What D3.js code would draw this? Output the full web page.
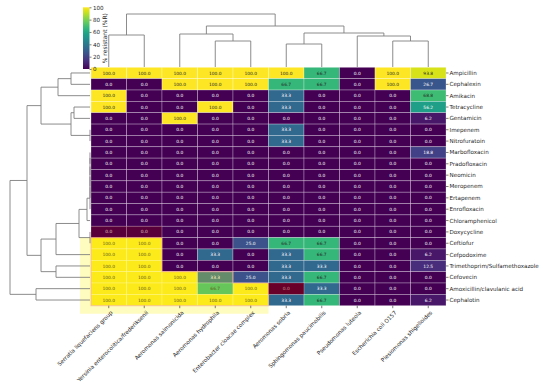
<!DOCTYPE html>
<html>
<head>
<meta charset="utf-8">
<script src="https://cdn.jsdelivr.net/npm/d3@7"></script>
<style>
  body { margin: 0; background: #fff; }
  svg { display: block; font-family: 'DejaVu Sans', sans-serif; }
</style>
</head>
<body>
<div class="clustermap"></div>
<script>
const antibiotics = [
  'Ampicillin', 'Cephalexin', 'Amikacin', 'Tetracycline', 'Gentamicin', 'Imepenem',
  'Nitrofuratoin', 'Marbofloxacin', 'Pradofloxacin', 'Neomicin', 'Meropenem', 'Ertapenem',
  'Enrofloxacin', 'Chloramphenicol', 'Doxycycline', 'Ceftiofur', 'Cefpodoxime',
  'Trimethoprim/Sulfamethoxazole', 'Cefovecin', 'Amoxicillin/clavulanic acid', 'Cephalotin',
];

const bacteria = [
  'Serratia liquefaciens group', 'Yersinia enterocolitica/frederiksenii', 'Aeromonas salmonicida',
  'Aeromonas hydrophila', 'Enterobacter cloacae complex', 'Aeromonas sobria',
  'Sphingomonas paucimobilis', 'Pseudomonas luteola', 'Escherichia coli O157',
  'Plesiomonas shigelloides',
];

// % resistant, one array per antibiotic (same order as bacteria)
const resistance = [
  [100, 100, 100, 100, 100, 100, 66.7, 0, 100, 93.8],
  [0, 0, 100, 100, 100, 66.7, 66.7, 0, 100, 26.7],
  [100, 0, 0, 0, 0, 33.3, 0, 0, 0, 68.8],
  [100, 0, 0, 100, 0, 33.3, 0, 0, 0, 56.2],
  [0, 0, 100, 0, 0, 0, 0, 0, 0, 6.2],
  [0, 0, 0, 0, 0, 33.3, 0, 0, 0, 0],
  [0, 0, 0, 0, 0, 33.3, 0, 0, 0, 0],
  [0, 0, 0, 0, 0, 0, 0, 0, 0, 18.8],
  [0, 0, 0, 0, 0, 0, 0, 0, 0, 0],
  [0, 0, 0, 0, 0, 0, 0, 0, 0, 0],
  [0, 0, 0, 0, 0, 0, 0, 0, 0, 0],
  [0, 0, 0, 0, 0, 0, 0, 0, 0, 0],
  [0, 0, 0, 0, 0, 0, 0, 0, 0, 0],
  [0, 0, 0, 0, 0, 0, 0, 0, 0, 0],
  [0, 0, 0, 0, 0, 0, 0, 0, 0, 0],
  [100, 100, 0, 0, 25, 66.7, 66.7, 0, 0, 0],
  [100, 100, 0, 33.3, 0, 33.3, 66.7, 0, 0, 6.2],
  [100, 100, 0, 0, 0, 33.3, 33.3, 0, 0, 12.5],
  [100, 100, 100, 33.3, 25, 33.3, 66.7, 0, 0, 0],
  [100, 100, 100, 66.7, 100, 0, 33.3, 0, 0, 0],
  [100, 100, 100, 100, 100, 33.3, 66.7, 0, 0, 6.2],
];

// linkage merges [childA, childB, distance]; new cluster ids follow the leaves
const rowLinkage = [
  [0, 1, 19], [21, 2, 32], [3, 4, 16], [5, 6, 0], [23, 24, 19], [22, 25, 49],
  [7, 8, 0], [27, 9, 0], [28, 10, 0], [29, 11, 0], [30, 12, 0], [31, 13, 3],
  [14, 15, 0], [32, 33, 11], [34, 16, 34], [17, 18, 34], [35, 36, 49],
  [26, 37, 63], [19, 20, 54], [38, 39, 80],
];
const colLinkage = [
  [0, 1, 32], [3, 4, 26], [2, 11, 33], [5, 6, 23], [8, 9, 26], [7, 14, 31],
  [13, 15, 34], [12, 16, 41], [10, 17, 53],
];

const colorbarTicks = [0, 20, 40, 60, 80, 100];

// hand-drawn highlight: staircase of [colBoundary, rowBoundary] corners
const highlightSteps = [[2, 15], [2, 18], [4, 18], [4, 19], [5, 19], [5, 21]];
const redMarks = [[0, 14], [1, 14], [5, 19]];

{
  const width = 550;
  const height = 383;
  const heat = { left: 91, right: 446, top: 67.3, bottom: 305.7 };

  const svg = d3.select('.clustermap')
    .append('svg')
    .attr('width', width)
    .attr('height', height);

  const xScale = d3.scaleBand().domain(bacteria).range([heat.left, heat.right]);
  const yScale = d3.scaleBand().domain(antibiotics).range([heat.top, heat.bottom]);
  const color = v => d3.interpolateViridis(v / 100);

  const lum = (c) => {
    const rgb = d3.rgb(c);
    const f = (u) => { const s = u / 255; return s <= 0.03928 ? s / 12.92 : ((s + 0.055) / 1.055) ** 2.4; };
    return 0.2126 * f(rgb.r) + 0.7152 * f(rgb.g) + 0.0722 * f(rgb.b);
  };

  // cells
  const cells = [];
  resistance.forEach((row, i) => row.forEach((v, j) => cells.push({ r: antibiotics[i], c: bacteria[j], v })));

  const cellG = svg.append('g').attr('class', 'cells');
  cellG.selectAll('rect')
    .data(cells)
    .enter()
    .append('rect')
    .attr('x', d => xScale(d.c))
    .attr('y', d => yScale(d.r))
    .attr('width', xScale.bandwidth())
    .attr('height', yScale.bandwidth())
    .attr('fill', d => color(d.v))
    .attr('stroke', 'rgba(255,255,255,0.45)')
    .attr('stroke-width', 0.6);

  // highlight overlays
  const xb = k => heat.left + k * xScale.bandwidth();
  const yb = k => heat.top + k * yScale.bandwidth();
  const ov = svg.append('g').attr('class', 'overlay');
  const outer = [[80, yb(15)]]
    .concat(highlightSteps.map(([c, r]) => [xb(c), yb(r)]))
    .map((p, i, arr) => (i === arr.length - 1 ? [p[0], heat.bottom + 8] : p));
  outer.push([80, heat.bottom + 8]);
  ov.append('path')
    .attr('d', d3.line()(outer) + 'Z')
    .attr('fill', '#fff200')
    .attr('fill-opacity', 0.25);
  const inner = [[heat.left, yb(15)]].concat(highlightSteps.map(([c, r]) => [xb(c), yb(r)]));
  inner.push([heat.left, heat.bottom]);
  ov.append('path')
    .attr('d', d3.line()(inner) + 'Z')
    .attr('fill', 'none')
    .attr('stroke', '#f4a09a')
    .attr('stroke-opacity', 0.6)
    .attr('stroke-width', 1.1);
  ov.selectAll('rect.red')
    .data(redMarks)
    .enter()
    .append('rect')
    .attr('class', 'red')
    .attr('x', d => xb(d[0]))
    .attr('y', d => yb(d[1]))
    .attr('width', xScale.bandwidth())
    .attr('height', yScale.bandwidth())
    .attr('fill', '#8b0000')
    .attr('fill-opacity', d => (d[1] === 14 ? 0.3 : 0.5));

  // cell annotations
  cellG.selectAll('text')
    .data(cells)
    .enter()
    .append('text')
    .attr('x', d => xScale(d.c) + xScale.bandwidth() / 2)
    .attr('y', d => yScale(d.r) + yScale.bandwidth() / 2)
    .attr('text-anchor', 'middle')
    .attr('dy', '0.35em')
    .attr('font-size', 4.4)
    .attr('fill', d => (lum(color(d.v)) > 0.32 ? '#262626' : '#ffffff'))
    .text(d => d3.format('.1f')(d.v));

  // row labels + ticks
  const rowAxis = svg.append('g').attr('class', 'axis axis--y');
  rowAxis.selectAll('line')
    .data(antibiotics)
    .enter()
    .append('line')
    .attr('x1', heat.right)
    .attr('x2', heat.right + 2.5)
    .attr('y1', d => yScale(d) + yScale.bandwidth() / 2)
    .attr('y2', d => yScale(d) + yScale.bandwidth() / 2)
    .attr('stroke', '#262626')
    .attr('stroke-width', 0.6);
  rowAxis.selectAll('text')
    .data(antibiotics)
    .enter()
    .append('text')
    .attr('x', heat.right + 3.5)
    .attr('y', d => yScale(d) + yScale.bandwidth() / 2)
    .attr('dy', '0.35em')
    .attr('font-size', 5.6)
    .attr('fill', '#262626')
    .text(d => d);

  // column labels + ticks
  const colAxis = svg.append('g').attr('class', 'axis axis--x');
  colAxis.selectAll('line')
    .data(bacteria)
    .enter()
    .append('line')
    .attr('x1', d => xScale(d) + xScale.bandwidth() / 2)
    .attr('x2', d => xScale(d) + xScale.bandwidth() / 2)
    .attr('y1', heat.bottom)
    .attr('y2', heat.bottom + 2.5)
    .attr('stroke', '#262626')
    .attr('stroke-width', 0.6);
  colAxis.selectAll('text')
    .data(bacteria)
    .enter()
    .append('text')
    .attr('transform', d => `translate(${xScale(d) + xScale.bandwidth() / 2 + 2},${heat.bottom + 5}) rotate(-45)`)
    .attr('text-anchor', 'end')
    .attr('dy', '0.6em')
    .attr('font-size', 5.6)
    .attr('fill', '#262626')
    .text(d => d);

  // dendrograms
  const drawDendrogram = (linkage, leafPos, distScale, vertical) => {
    const pos = leafPos.slice();
    const dist = leafPos.map(() => 0);
    const paths = [];
    linkage.forEach(([a, b, h]) => {
      const pa = pos[a];
      const pb = pos[b];
      const da = distScale(dist[a]);
      const db = distScale(dist[b]);
      const dh = distScale(h);
      if (vertical) {
        paths.push(`M${pa},${da}V${dh}H${pb}V${db}`);
      } else {
        paths.push(`M${da},${pa}H${dh}V${pb}H${db}`);
      }
      pos.push((pa + pb) / 2);
      dist.push(h);
    });
    return paths;
  };

  const rowDist = d3.scaleLinear().domain([0, 80]).range([90, 10]);
  const colDist = d3.scaleLinear().domain([0, 53]).range([67, 14]);

  const rowPaths = drawDendrogram(rowLinkage, antibiotics.map(d => yScale(d) + yScale.bandwidth() / 2), rowDist, false);
  const colPaths = drawDendrogram(colLinkage, bacteria.map(d => xScale(d) + xScale.bandwidth() / 2), colDist, true);

  svg.append('g')
    .attr('class', 'dendro')
    .selectAll('path')
    .data(rowPaths.concat(colPaths))
    .enter()
    .append('path')
    .attr('d', d => d)
    .attr('fill', 'none')
    .attr('stroke', '#7f7f7f')
    .attr('stroke-width', 0.9);

  // colorbar
  const cb = { x: 83, w: 6.5, top: 7.3, bottom: 69 };
  const cbScale = d3.scaleLinear().domain([0, 100]).range([cb.bottom, cb.top]);
  const defs = svg.append('defs');
  const grad = defs.append('linearGradient')
    .attr('id', 'viridis')
    .attr('x1', 0).attr('y1', 1).attr('x2', 0).attr('y2', 0);
  d3.range(0, 1.0001, 0.05).forEach((t) => {
    grad.append('stop').attr('offset', t).attr('stop-color', d3.interpolateViridis(t));
  });
  svg.append('rect')
    .attr('x', cb.x)
    .attr('y', cb.top)
    .attr('width', cb.w)
    .attr('height', cb.bottom - cb.top)
    .attr('fill', 'url(#viridis)');

  const cbAxis = svg.append('g')
    .attr('class', 'colorbar-axis')
    .attr('transform', `translate(${cb.x + cb.w},0)`)
    .call(d3.axisRight(cbScale).tickValues(colorbarTicks).tickSize(2).tickPadding(1.5));
  cbAxis.select('.domain').remove();
  cbAxis.selectAll('line').attr('stroke', '#262626').attr('stroke-width', 0.6);
  cbAxis.selectAll('text')
    .attr('font-size', 5.6)
    .attr('font-family', 'DejaVu Sans')
    .attr('fill', '#262626');

  svg.append('text')
    .attr('transform', `translate(${cb.x + 24},${(cb.top + cb.bottom) / 2}) rotate(-90)`)
    .attr('text-anchor', 'middle')
    .attr('font-size', 6)
    .attr('fill', '#262626')
    .text('% resistant (%R)');
}
</script>
</body>
</html>
